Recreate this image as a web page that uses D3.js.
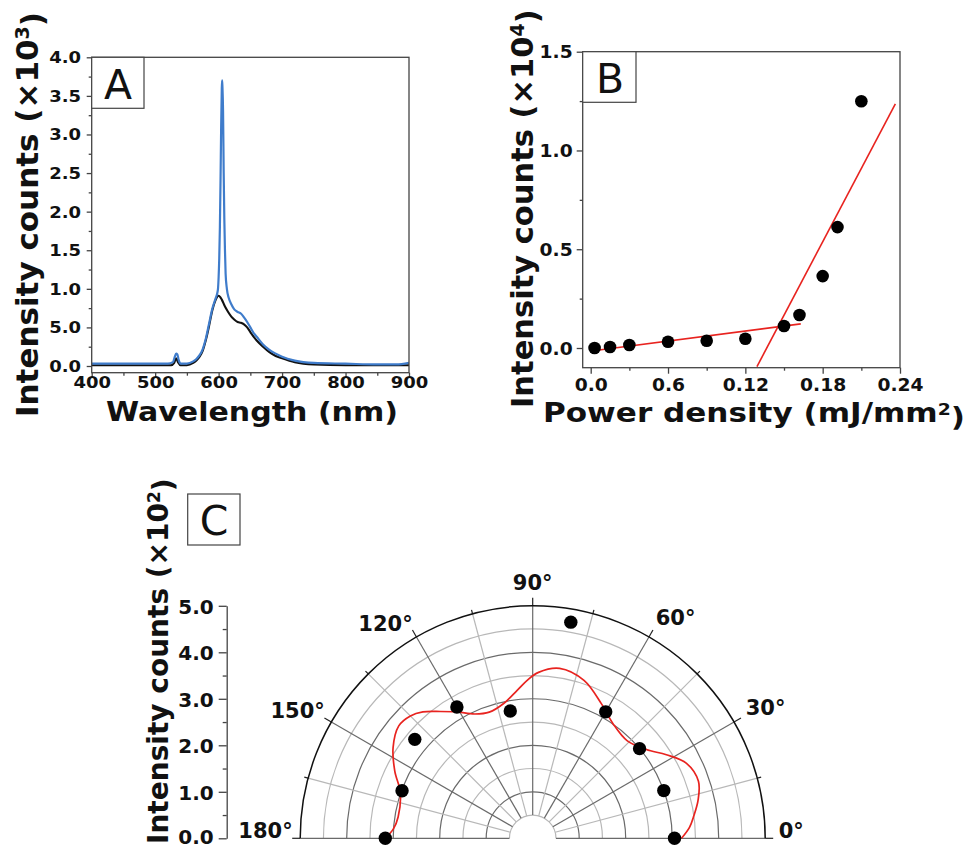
<!DOCTYPE html>
<html>
<head>
<meta charset="utf-8">
<script src="https://cdn.jsdelivr.net/npm/d3@7"></script>
<style>
  html, body { margin: 0; padding: 0; background: #fff; }
  svg { display: block; }
  text { font-family: "DejaVu Sans", Verdana, sans-serif; fill: #111; }
</style>
</head>
<body>
<svg id="fig" width="969" height="849"></svg>
<script>
// ---------- Panel A: emission spectra (intensity in units of 10^3 counts) ----------
const specBlueWl = [400,425,450,475,500,520,528,531,533,535,537,540,550,560,565,570,575,580,585,590,595,598,599,600,601,602,603,604,605,605.5,606,607,608,609,610,611,613,616,620,625,630,635,640,645,650,655,660,670,680,690,700,720,750,800,850,880,900];
const specBlueI  = [0.03,0.03,0.03,0.03,0.03,0.03,0.05,0.12,0.16,0.15,0.08,0.03,0.03,0.06,0.09,0.14,0.22,0.36,0.55,0.74,0.87,0.95,1.0,1.15,1.4,1.8,2.4,3.1,3.6,3.70,3.62,3.3,2.5,1.9,1.5,1.2,1.0,0.88,0.80,0.73,0.70,0.68,0.63,0.57,0.50,0.43,0.38,0.28,0.21,0.16,0.12,0.07,0.04,0.03,0.02,0.02,0.04];
const specBlackWl = [400,450,500,525,530,533,536,540,550,560,565,570,575,580,585,590,595,600,605,610,615,620,625,630,635,640,645,650,655,660,670,680,690,700,720,750,800,850,900];
const specBlackI  = [0.01,0.01,0.01,0.01,0.04,0.10,0.05,0.01,0.01,0.04,0.07,0.12,0.20,0.34,0.52,0.72,0.85,0.91,0.86,0.77,0.70,0.64,0.60,0.57,0.56,0.54,0.50,0.44,0.38,0.33,0.25,0.18,0.13,0.10,0.05,0.02,0.01,0.01,0.01];
const aXTicks = [400,500,600,700,800,900];
const aXMinor = [450,550,650,750,850];
const aYTicks = [0,0.5,1,1.5,2,2.5,3,3.5,4];
const aYTickLabels = ["0.0","5.0","1.0","1.5","2.0","2.5","3.0","3.5","4.0"];
const aYMinor = [0.25,0.75,1.25,1.75,2.25,2.75,3.25,3.75];

// ---------- Panel B: intensity vs pump power density (units of 10^4 counts) ----------
const powerDensity = [0.003,0.015,0.030,0.060,0.090,0.120,0.150,0.162,0.180,0.1915,0.210];
const peakIntensity = [0.0,0.005,0.015,0.032,0.037,0.047,0.111,0.167,0.364,0.612,1.249];
const fitBelowX = [0.002,0.163];
const fitBelowY = [-0.014,0.122];
const fitAboveX = [0.129,0.2364];
const fitAboveY = [-0.094,1.236];
const bXTicks = [0,0.06,0.12,0.18,0.24];
const bXTickLabels = ["0.0","0.6","0.12","0.18","0.24"];
const bXMinor = [0.03,0.09,0.15,0.21];
const bYTicks = [0,0.5,1,1.5];
const bYTickLabels = ["0.0","0.5","1.0","1.5"];
const bYMinor = [0.25,0.75,1.25];

// ---------- Panel C: polarisation dependence (units of 10^2 counts) ----------
const polAngle = [0,20,40,60,80,100,120,140,160,180];
const polIntensity = [3.05,3.0,3.0,3.14,4.72,2.78,3.26,3.31,2.99,3.17];
const fitAngle = [0,4,8,13,19,26,32,38,46,55,63,72,81,88,92,96,102,109,115,121,126,131,135,140,147,154,161,171,176,180];
const fitIntensity = [3.2,3.38,3.5,3.65,3.77,3.68,3.39,3.1,2.92,3.01,3.25,3.57,3.70,3.57,3.40,3.2,2.97,2.87,2.95,3.17,3.37,3.6,3.72,3.76,3.58,3.3,3.01,2.93,3.0,3.17];
const cTicks = [0,1,2,3,4,5];
const cTickLabels = ["0.0","1.0","2.0","3.0","4.0","5.0"];
const cMinor = [0.5,1.5,2.5,3.5,4.5];
const ringValues = [0.5,1,1.5,2,2.5,3,3.5,4,4.5];
const spokeAngles = [0,15,30,45,60,75,90,105,120,135,150,165,180];
const angleLabelValues = [0,30,60,90,120,150,180];

const svg = d3.select("#fig");
const AXIS = "#444";

function styleAxis(g) {
  g.selectAll("path.domain").remove();
  g.selectAll("line").attr("stroke", AXIS).attr("stroke-width", 1.3);
}

// ===================== Panel A =====================
const A = { left: 91.7, right: 409, top: 57.3, bottom: 372.7 };
const ax = d3.scaleLinear().domain([400, 900]).range([A.left, A.right]);
const ay = d3.scaleLinear().domain([0, 4]).range([366, A.top]);
const gA = svg.append("g");

gA.append("clipPath").attr("id", "clipA").append("rect")
  .attr("x", A.left).attr("y", A.top).attr("width", A.right - A.left).attr("height", A.bottom - A.top);

// minor ticks
gA.append("g").attr("transform", `translate(0,${A.bottom})`)
  .call(d3.axisBottom(ax).tickValues(aXMinor).tickSize(3).tickFormat(""))
  .call(styleAxis);
gA.append("g").attr("transform", `translate(${A.left},0)`)
  .call(d3.axisLeft(ay).tickValues(aYMinor).tickSize(3).tickFormat(""))
  .call(styleAxis);

const aSX = 1.2;
gA.append("g").attr("transform", `translate(0,${A.bottom})`)
  .call(d3.axisBottom(ax).tickValues(aXTicks).tickSize(5).tickFormat(d3.format("d")))
  .call(styleAxis)
  .call(g => g.selectAll("text")
    .attr("y", 15.3).attr("dy", null)
    .attr("transform", `scale(${aSX},1)`)
    .style("font-size", "15px").style("font-weight", "bold"));
gA.append("g").attr("transform", `translate(${A.left},0)`)
  .call(d3.axisLeft(ay).tickValues(aYTicks).tickSize(5).tickFormat((d, i) => aYTickLabels[i]))
  .call(styleAxis)
  .call(g => g.selectAll("text")
    .attr("x", -10.7 / aSX).attr("dy", "0.36em")
    .attr("transform", `scale(${aSX},1)`)
    .style("font-size", "15px").style("font-weight", "bold"));

const lineA = d3.line().x(d => ax(d[0])).y(d => ay(d[1])).curve(d3.curveMonotoneX);
gA.append("path")
  .datum(specBlackWl.map((w, i) => [w, specBlackI[i]]))
  .attr("d", lineA).attr("fill", "none").attr("stroke", "#111").attr("stroke-width", 2.1)
  .attr("clip-path", "url(#clipA)");
gA.append("path")
  .datum(specBlueWl.map((w, i) => [w, specBlueI[i]]))
  .attr("d", lineA).attr("fill", "none").attr("stroke", "#3f7ccb").attr("stroke-width", 2.2)
  .attr("stroke-linejoin", "round")
  .attr("clip-path", "url(#clipA)");

gA.append("rect")
  .attr("x", A.left).attr("y", A.top).attr("width", A.right - A.left).attr("height", A.bottom - A.top)
  .attr("fill", "none").attr("stroke", AXIS).attr("stroke-width", 1.3);

// panel letter
gA.append("rect").attr("x", A.left).attr("y", A.top).attr("width", 52.3).attr("height", 51)
  .attr("fill", "#fff").attr("stroke", AXIS).attr("stroke-width", 1.2);
gA.append("text").attr("x", 118).attr("y", 98.5).attr("text-anchor", "middle")
  .style("font-size", "41px").text("A");

// axis titles
gA.append("text").attr("x", 252).attr("y", 421).attr("text-anchor", "middle")
  .attr("textLength", 292).attr("lengthAdjust", "spacingAndGlyphs")
  .style("font-size", "26.5px").style("font-weight", "bold").text("Wavelength (nm)");
const aYT = gA.append("text").attr("transform", "translate(38,417) rotate(-90)")
  .style("font-size", "31px").style("font-weight", "bold");
aYT.append("tspan").text("Intensity counts (×10");
aYT.append("tspan").attr("dy", "-0.45em").style("font-size", "19px").text("3");
aYT.append("tspan").attr("dy", "0.45em").text(")");

// ===================== Panel B =====================
const B = { left: 582.7, right: 900, top: 51.7, bottom: 367.7 };
const bx = d3.scaleLinear().domain([0, 0.24]).range([590.7, B.right]);
const by = d3.scaleLinear().domain([0, 1.5]).range([348, B.top]);
const gB = svg.append("g");

gB.append("clipPath").attr("id", "clipB").append("rect")
  .attr("x", B.left).attr("y", B.top).attr("width", B.right - B.left).attr("height", B.bottom - B.top);

gB.append("g").attr("transform", `translate(0,${B.bottom})`)
  .call(d3.axisBottom(bx).tickValues(bXMinor).tickSize(3).tickFormat(""))
  .call(styleAxis);
gB.append("g").attr("transform", `translate(${B.left},0)`)
  .call(d3.axisLeft(by).tickValues(bYMinor).tickSize(3).tickFormat(""))
  .call(styleAxis);

const bSX = 1.1;
gB.append("g").attr("transform", `translate(0,${B.bottom})`)
  .call(d3.axisBottom(bx).tickValues(bXTicks).tickSize(6).tickFormat((d, i) => bXTickLabels[i]))
  .call(styleAxis)
  .call(g => g.selectAll("text")
    .attr("y", 23).attr("dy", null)
    .attr("transform", `scale(${bSX},1)`)
    .style("font-size", "17px").style("font-weight", "bold"));
gB.append("g").attr("transform", `translate(${B.left},0)`)
  .call(d3.axisLeft(by).tickValues(bYTicks).tickSize(6).tickFormat((d, i) => bYTickLabels[i]))
  .call(styleAxis)
  .call(g => g.selectAll("text")
    .attr("x", -10 / bSX).attr("dy", "0.36em")
    .attr("transform", `scale(${bSX},1)`)
    .style("font-size", "17px").style("font-weight", "bold"));

const lineB = d3.line().x(d => bx(d[0])).y(d => by(d[1]));
gB.append("path").datum(fitBelowX.map((x, i) => [x, fitBelowY[i]]))
  .attr("d", lineB).attr("stroke", "#e8231f").attr("stroke-width", 1.6).attr("fill", "none")
  .attr("clip-path", "url(#clipB)");
gB.append("path").datum(fitAboveX.map((x, i) => [x, fitAboveY[i]]))
  .attr("d", lineB).attr("stroke", "#e8231f").attr("stroke-width", 1.6).attr("fill", "none")
  .attr("clip-path", "url(#clipB)");

gB.selectAll("circle.pt").data(powerDensity.map((x, i) => [x, peakIntensity[i]]))
  .join("circle").attr("class", "pt")
  .attr("cx", d => bx(d[0])).attr("cy", d => by(d[1])).attr("r", 6.3).attr("fill", "#000");

gB.append("rect")
  .attr("x", B.left).attr("y", B.top).attr("width", B.right - B.left).attr("height", B.bottom - B.top)
  .attr("fill", "none").attr("stroke", AXIS).attr("stroke-width", 1.3);

gB.append("rect").attr("x", B.left).attr("y", B.top).attr("width", 53.3).attr("height", 50.6)
  .attr("fill", "#fff").attr("stroke", AXIS).attr("stroke-width", 1.2);
gB.append("text").attr("x", 610).attr("y", 92.7).attr("text-anchor", "middle")
  .style("font-size", "41px").text("B");

const bXT = gB.append("text").attr("x", 754).attr("y", 421.7).attr("text-anchor", "middle")
  .attr("textLength", 422).attr("lengthAdjust", "spacingAndGlyphs")
  .style("font-size", "26.5px").style("font-weight", "bold");
bXT.append("tspan").text("Power density (mJ/mm");
bXT.append("tspan").attr("dy", "-0.45em").style("font-size", "16px").text("2");
bXT.append("tspan").attr("dy", "0.45em").text(")");
const bYT = gB.append("text").attr("transform", "translate(533,408) rotate(-90)")
  .style("font-size", "30.5px").style("font-weight", "bold");
bYT.append("tspan").text("Intensity counts (×10");
bYT.append("tspan").attr("dy", "-0.45em").style("font-size", "19px").text("4");
bYT.append("tspan").attr("dy", "0.45em").text(")");

// ===================== Panel C =====================
const cx = 532.7, cy = 838.3;
const rr = d3.scaleLinear().domain([0, 5]).range([0, 232.5]);
const gC = svg.append("g");
const rad = a => a * Math.PI / 180;
const px = (a, r) => cx + r * Math.cos(rad(a));
const py = (a, r) => cy - r * Math.sin(rad(a));

// rings
ringValues.forEach(v => {
  const p = d3.path();
  p.moveTo(cx + rr(v), cy);
  p.arc(cx, cy, rr(v), 0, -Math.PI, true);
  gC.append("path").attr("d", p.toString()).attr("fill", "none")
    .attr("stroke", Number.isInteger(v) ? "#6a6a6a" : "#b8b8b8").attr("stroke-width", 1.2);
});
// spokes
spokeAngles.forEach(a => {
  const major = a % 30 === 0;
  gC.append("line")
    .attr("x1", px(a, rr(0.5))).attr("y1", py(a, rr(0.5)))
    .attr("x2", px(a, rr(5))).attr("y2", py(a, rr(5)))
    .attr("stroke", major ? "#6a6a6a" : "#b8b8b8").attr("stroke-width", 1.2);
  gC.append("line")
    .attr("x1", px(a, rr(5))).attr("y1", py(a, rr(5)))
    .attr("x2", px(a, rr(5) + (major ? 8 : 4))).attr("y2", py(a, rr(5) + (major ? 8 : 4)))
    .attr("stroke", "#222").attr("stroke-width", 1.2);
});
// outer boundary
{
  const p = d3.path();
  p.moveTo(cx + rr(5), cy);
  p.arc(cx, cy, rr(5), 0, -Math.PI, true);
  gC.append("path").attr("d", p.toString()).attr("fill", "none")
    .attr("stroke", "#111").attr("stroke-width", 1.5);
}

// fit curve
const radial = d3.lineRadial()
  .angle(d => rad(90 - d[0])).radius(d => rr(d[1])).curve(d3.curveCatmullRom.alpha(0.5));
gC.append("path").attr("transform", `translate(${cx},${cy})`)
  .datum(fitAngle.map((a, i) => [a, fitIntensity[i]]))
  .attr("d", radial).attr("fill", "none").attr("stroke", "#e8231f").attr("stroke-width", 1.7);

// measured points
gC.selectAll("circle.pp").data(polAngle.map((a, i) => [a, polIntensity[i]]))
  .join("circle").attr("class", "pp")
  .attr("cx", d => px(d[0], rr(d[1]))).attr("cy", d => py(d[0], rr(d[1])))
  .attr("r", 6.7).attr("fill", "#000");

// angle labels
angleLabelValues.forEach(a => {
  const r = a <= 90 ? 246 : 240;
  gC.append("text")
    .attr("x", px(a, r)).attr("y", py(a, r) + (a === 90 ? -10 : -7.5))
    .attr("dy", "0.36em")
    .attr("text-anchor", a < 90 ? "start" : (a === 90 ? "middle" : "end"))
    .style("font-size", "21px").style("font-weight", "bold")
    .text(a + "°");
});

// radial axis on the left
const cy0 = d3.scaleLinear().domain([0, 5]).range([cy, cy - rr(5)]);
gC.append("g").attr("transform", "translate(226.7,0)")
  .call(d3.axisLeft(cy0).tickValues(cMinor).tickSize(4).tickFormat(""))
  .call(g => g.selectAll("line").attr("stroke", AXIS).attr("stroke-width", 1.3))
  .call(g => g.select("path.domain").remove());
gC.append("g").attr("transform", "translate(226.7,0)")
  .call(d3.axisLeft(cy0).tickValues(cTicks).tickSize(8).tickSizeOuter(0).tickPadding(5)
    .tickFormat((d, i) => cTickLabels[i]))
  .call(g => g.select("path.domain").attr("stroke", AXIS).attr("stroke-width", 1.3))
  .call(g => g.selectAll("line").attr("stroke", AXIS).attr("stroke-width", 1.3))
  .call(g => g.selectAll("text").attr("dy", d => d === 0 ? "0.26em" : "0.36em")
    .style("font-size", "20px").style("font-weight", "bold"));

gC.append("rect").attr("x", 187.7).attr("y", 494).attr("width", 52.3).attr("height", 51)
  .attr("fill", "#fff").attr("stroke", AXIS).attr("stroke-width", 1.2);
gC.append("text").attr("x", 214).attr("y", 534.5).attr("text-anchor", "middle")
  .style("font-size", "41px").text("C");

const cYT = gC.append("text").attr("transform", "translate(168,844) rotate(-90)")
  .style("font-size", "28px").style("font-weight", "bold");
cYT.append("tspan").text("Intensity counts (×10");
cYT.append("tspan").attr("dy", "-0.45em").style("font-size", "17px").text("2");
cYT.append("tspan").attr("dy", "0.45em").text(")");
</script>
</body>
</html>
